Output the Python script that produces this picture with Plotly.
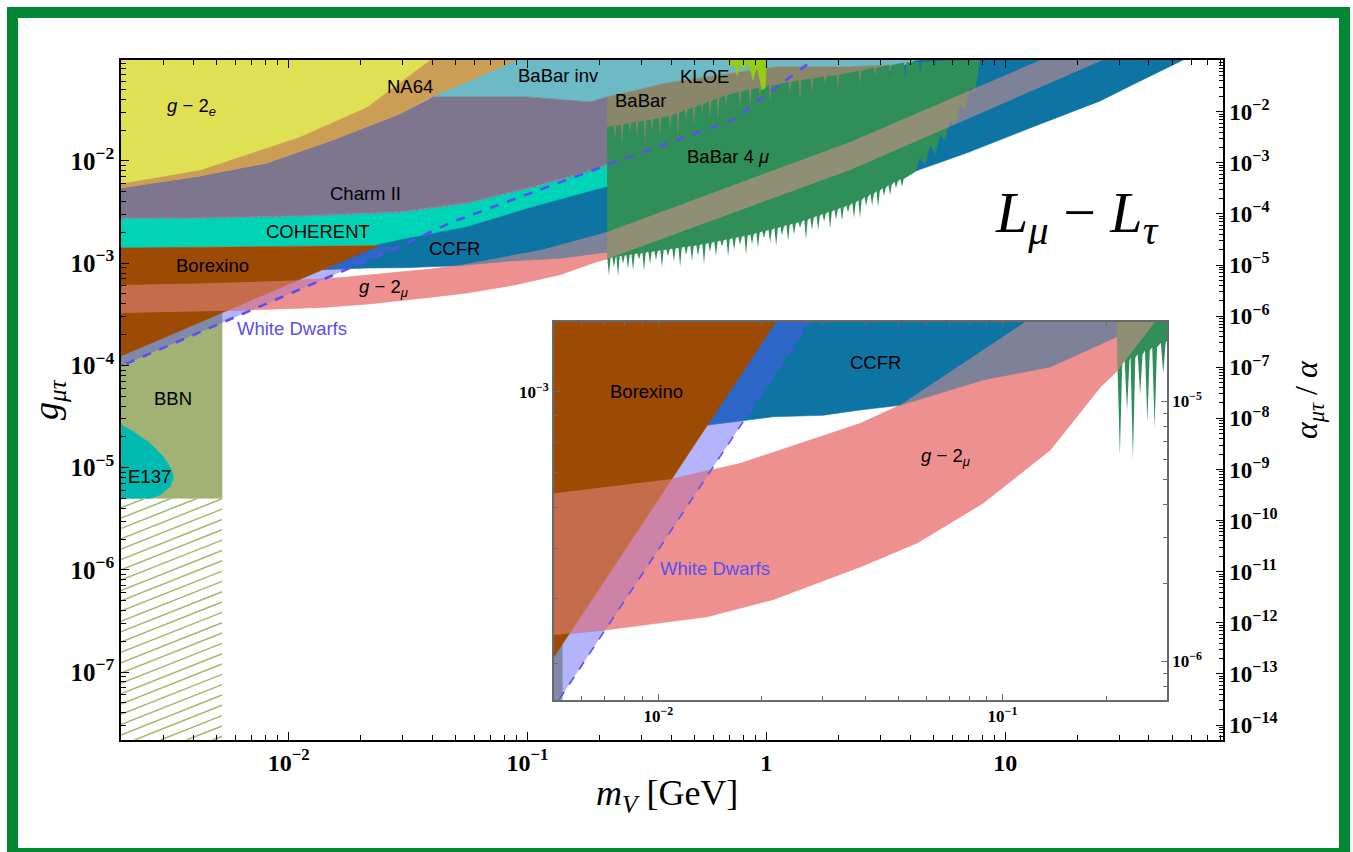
import numpy as np
import plotly.graph_objects as go

# ---------------- data: boundary points ----------------
# all values are log10(m_V / GeV) and log10(g_mu_tau)
g2e_logm = [-2.75, -2.371, -1.953, -1.672, -1.408, -1.40, -2.75]
g2e_logg = [-2.24, -2.088, -1.765, -1.472, -1.012, -0.95, -0.95]

na64_logm = [-2.75, -2.702, -2.371, -2.091, -1.815, -1.534, -1.396, -1.253, -1.044, -1.03, -2.75]
na64_logg = [-2.27, -2.264, -2.147, -2.020, -1.795, -1.540, -1.364, -1.227, -1.012, -0.95, -0.95]

babarinv_logm = [-1.45, -1.396, -1.002, -0.738, -0.667, -0.416, -0.139, 0.045, 0.351, 0.519, 0.552, 0.581, 0.895, 0.979, 0.99, -1.45]
babarinv_logg = [-1.40, -1.374, -1.374, -1.423, -1.374, -1.237, -1.139, -1.080, -1.080, -1.061, -1.139, -1.061, -1.031, -1.0, -0.95, -0.95]

babar_logm = [-0.667, -0.416, -0.139, 0.045, 0.351, 0.519, 0.552, 0.581, 0.895, 0.895, -0.667]
babar_logg = [-1.374, -1.237, -1.139, -1.080, -1.080, -1.061, -1.139, -1.061, -1.031, -1.6, -1.9]

charm_low_logm = [-2.75, -2.371, -1.953, -1.534, -1.253, -0.977, -0.767, -0.667]
charm_low_logg = [-2.558, -2.558, -2.538, -2.499, -2.411, -2.254, -2.117, -2.039]
charm_top_logm = [-0.667, -0.738, -1.002, -1.396, -1.534, -1.815, -2.091, -2.371, -2.702, -2.75]
charm_top_logg = [-1.374, -1.423, -1.374, -1.374, -1.540, -1.795, -2.020, -2.147, -2.264, -2.27]

coherent_low_logm = [-0.667, -0.977, -1.253, -1.534, -1.63, -2.75]
coherent_low_logg = [-2.254, -2.450, -2.646, -2.773, -2.822, -2.853]

borexino_logm = [-2.75, -1.62, -2.75]
borexino_logg = [-2.853, -2.827, -3.957]

ccfr_logm = [-1.857, -1.743, -1.667, -1.521, -1.414, -1.298, -1.056, -0.861, -0.667, -0.522, 0.560, 0.838,
             1.118, 1.398, 1.537, 1.745, 1.80, 0.70, -0.667, -0.977, -1.253, -1.534, -1.63]
ccfr_logg = [-3.064, -3.054, -3.048, -3.045, -3.035, -3.026, -2.977, -2.952, -2.894, -2.868, -2.153, -1.923,
             -1.665, -1.413, -1.251, -1.012, -0.95, -0.95, -2.254, -2.450, -2.646, -2.773, -2.822]

g2mu_up_logm = [-2.75, -2.30, -1.956, -1.763, -1.414, -1.298, -0.94, -0.667, 0.351, 1.146, 1.20]
g2mu_up_logg = [-3.215, -3.195, -3.167, -3.138, -3.061, -3.026, -2.868, -2.695, -1.814, -1.012, -0.96]
g2mu_lo_logm = [-2.75, -2.30, -2.15, -1.859, -1.667, -1.414, -1.248, -1.056, -0.861, -0.716, -0.667, 0.351, 1.41, 1.47]
g2mu_lo_logg = [-3.49, -3.468, -3.458, -3.433, -3.40, -3.337, -3.291, -3.214, -3.112, -2.991, -2.96, -2.088, -1.012, -0.96]

bbn_logm = [-2.75, -2.279, -2.279, -2.75]
bbn_logg = [-5.30, -5.30, -2.9, -2.9]

e137_logm = [-2.75, -2.699, -2.651, -2.581, -2.525, -2.490, -2.483, -2.497, -2.539, -2.581, -2.75]
e137_logg = [-4.583, -4.583, -4.649, -4.762, -4.893, -5.023, -5.105, -5.187, -5.268, -5.30, -5.30]

wd_line_logm = [-2.75, -2.286, -1.564, -1.325, -0.667, -0.139, 0.196, 0.22]
wd_line_logg = [-4.054, -3.590, -2.868, -2.607, -2.039, -1.599, -1.012, -0.97]
wd_band_logm = [-2.75, -1.53, -1.627, -2.75]
wd_band_logg = [-4.054, -2.834, -2.834, -3.957]

# BaBar 4mu: jagged lower edge (spike position, edge level, spike tip)
b4mu_spike_logm = [-0.659, -0.638, -0.621, -0.600, -0.579, -0.558, -0.533, -0.512, -0.487, -0.462,
                   -0.437, -0.412, -0.387, -0.361, -0.336, -0.311, -0.286, -0.261, -0.236, -0.211,
                   -0.186, -0.160, -0.135, -0.110, -0.085, -0.060, -0.035, -0.010, 0.016, 0.041,
                   0.066, 0.091, 0.116, 0.141, 0.166, 0.191, 0.217, 0.242, 0.267, 0.292,
                   0.317, 0.342, 0.367, 0.392, 0.418, 0.443, 0.468, 0.493, 0.518, 0.543, 0.568]
b4mu_spike_base = [-2.946, -2.939, -2.934, -2.928, -2.921, -2.914, -2.906, -2.898, -2.890, -2.883,
                   -2.874, -2.866, -2.857, -2.849, -2.841, -2.833, -2.825, -2.814, -2.802, -2.791,
                   -2.779, -2.767, -2.755, -2.744, -2.732, -2.719, -2.704, -2.689, -2.673, -2.658,
                   -2.643, -2.627, -2.613, -2.597, -2.577, -2.558, -2.537, -2.517, -2.497, -2.477,
                   -2.457, -2.437, -2.411, -2.382, -2.352, -2.323, -2.294, -2.264, -2.235, -2.205, -2.176]
b4mu_spike_tip = [-3.122, -3.037, -3.130, -3.006, -3.058, -3.070, -2.965, -3.074, -3.008, -2.971,
                  -3.040, -2.934, -2.984, -3.035, -2.920, -2.979, -2.932, -3.010, -2.890, -2.928,
                  -2.838, -2.933, -2.873, -2.822, -2.918, -2.817, -2.850, -2.757, -2.800, -2.834,
                  -2.731, -2.784, -2.720, -2.656, -2.773, -2.675, -2.674, -2.595, -2.663, -2.575,
                  -2.584, -2.506, -2.558, -2.558, -2.440, -2.440, -2.450, -2.342, -2.333, -2.264, -2.254]
# right edge (bottom -> top)
b4mu_right_logm = [0.623, 0.644, 0.665, 0.686, 0.707, 0.728, 0.749, 0.769, 0.790, 0.811, 0.832, 0.853, 0.874, 0.895, 0.75]
b4mu_right_logg = [-2.108, -1.971, -2.039, -1.843, -1.941, -1.746, -1.795, -1.599, -1.648, -1.452, -1.501, -1.286, -1.325, -1.012, -1.020]
# jagged upper edge (notch position, edge level, notch tip), right -> left
b4mu_notch_logm = [0.706, 0.644, 0.581, 0.518, 0.455, 0.392, 0.300, 0.246, 0.191, 0.141, 0.099, 0.016,
                   -0.026, -0.068, -0.110, -0.169, -0.202, -0.236, -0.269, -0.303, -0.336, -0.370,
                   -0.403, -0.445, -0.479, -0.508, -0.541, -0.571, -0.604, -0.634]
b4mu_notch_base = [-1.026, -1.032, -1.038, -1.061, -1.090, -1.119, -1.157, -1.175, -1.195, -1.212, -1.227, -1.262,
                   -1.282, -1.301, -1.321, -1.359, -1.388, -1.417, -1.445, -1.474, -1.502, -1.530,
                   -1.559, -1.581, -1.594, -1.606, -1.618, -1.630, -1.643, -1.655]
b4mu_notch_tip = [-1.085, -1.130, -1.214, -1.178, -1.168, -1.247, -1.323, -1.263, -1.332, -1.428, -1.344, -1.438,
                  -1.380, -1.497, -1.478, -1.477, -1.604, -1.583, -1.533, -1.660, -1.610, -1.765,
                  -1.705, -1.777, -1.711, -1.850, -1.795, -1.728, -1.858, -1.792]
b4mu_corner_logm = [-0.667, -0.667]          # left edge: top, bottom
b4mu_corner_logg = [-1.667, -2.949]

kloe_logm = [-0.164, -0.152, -0.139, -0.122, -0.110, -0.089, -0.077, -0.056, -0.039, -0.018, -0.005, 0.003, 0.003, -0.164]
kloe_logg = [-1.012, -1.090, -1.031, -1.159, -1.051, -1.110, -1.031, -1.207, -1.070, -1.305, -1.286, -1.012, -0.95, -0.95]

# region labels: (text, log10 m, log10 g)
main_labels = [
    ("<i>g</i> − 2<sub><i>e</i></sub>", -2.405, -1.472),
    ("NA64", -1.492, -1.276),
    ("BaBar inv", -0.872, -1.168),
    ("KLOE", -0.261, -1.178),
    ("BaBar", -0.529, -1.413),
    ("Charm II", -1.680, -2.323),
    ("BaBar 4 <i>μ</i>", -0.160, -1.961),
    ("COHERENT", -1.877, -2.695),
    ("CCFR", -1.304, -2.861),
    ("Borexino", -2.317, -3.027),
    ("<i>g</i> − 2<sub><i>μ</i></sub>", -1.605, -3.243),
    ("BBN", -2.484, -4.329),
    ("E137", -2.581, -5.092),
]
inset_labels = [
    ("Borexino", -2.033, -2.999),
    ("CCFR", -1.370, -2.943),
    ("<i>g</i> − 2<sub><i>μ</i></sub>", -1.167, -3.126),
]
wd_label_main = (-1.986, -3.644)
wd_label_inset = (-1.835, -3.339)

# axis ranges (log10) and ticks
main_xrange = [-2.702, 1.912]
main_yrange = [-7.665, -1.013]
alpha_offset = 1.037           # log10(1/(4 pi alpha_em)): alpha_mt/alpha = g^2/(4 pi alpha)
inset_xrange = [-2.303, -0.522]
inset_yrange = [-3.593, -2.865]
main_xticks = [-2, -1, 0, 1]
main_xticktext = ["10<sup>−2</sup>", "10<sup>−1</sup>", "1", "10"]
main_yticks = [-2, -3, -4, -5, -6, -7]
alpha_ticks = list(range(-2, -15, -1))
inset_xticks = [-2, -1]
inset_yticks = [-3]
inset_alpha_ticks = [-5, -6]

# ---------------- figure ----------------
W, H = 1353, 852
ML, MR, MT, MB = 121, 130, 60, 112
fig = go.Figure()
AX = [("x", "y"), ("x2", "y3")]


def add_poly(lm, lg, color, line=True, axes=AX):
    for xa, ya in axes:
        fig.add_trace(go.Scatter(
            x=10 ** np.array(lm, dtype=float), y=10 ** np.array(lg, dtype=float),
            fill="toself", fillcolor=color, mode="lines",
            line=dict(width=0.6 if line else 0, color=color),
            hoverinfo="skip", showlegend=False, xaxis=xa, yaxis=ya))


def band(lm_up, lg_up, lm_lo, lg_lo):
    return list(lm_up) + list(lm_lo)[::-1], list(lg_up) + list(lg_lo)[::-1]


def jag(pos, base, tip, w):
    xs, ys = [], []
    for p, b, t in zip(pos, base, tip):
        xs += [p - w, p, p + w]
        ys += [b, t, b]
    return xs, ys


# BaBar 4 mu outline
sx, sy = jag(b4mu_spike_logm, b4mu_spike_base, b4mu_spike_tip, 0.007)
nx, ny = jag(b4mu_notch_logm[::-1], b4mu_notch_base[::-1], b4mu_notch_tip[::-1], 0.005)
b4mu_x = [b4mu_corner_logm[1]] + sx + b4mu_right_logm + nx[::-1] + [b4mu_corner_logm[0]]
b4mu_y = [b4mu_corner_logg[1]] + sy + b4mu_right_logg + ny[::-1] + [b4mu_corner_logg[0]]

add_poly(babarinv_logm, babarinv_logg, "rgb(108,186,198)")
add_poly(babar_logm, babar_logg, "rgb(138,134,106)")
cm, cg = band(charm_top_logm[::-1], charm_top_logg[::-1], charm_low_logm, charm_low_logg)
add_poly(cm, cg, "rgb(126,118,142)")
add_poly(na64_logm, na64_logg, "rgb(204,157,84)")
add_poly(g2e_logm, g2e_logg, "rgb(224,224,84)")
hm, hg = band(charm_low_logm, charm_low_logg, coherent_low_logm[::-1], coherent_low_logg[::-1])
add_poly(hm, hg, "rgb(0,212,182)")
pm, pg = band(g2mu_up_logm, g2mu_up_logg, g2mu_lo_logm, g2mu_lo_logg)
add_poly(pm, pg, "rgb(238,144,144)")
add_poly(ccfr_logm, ccfr_logg, "rgb(14,116,163)")
add_poly(bbn_logm, bbn_logg, "rgb(162,178,116)")
add_poly(e137_logm, e137_logg, "rgb(0,186,178)")
add_poly(wd_band_logm, wd_band_logg, "rgba(85,85,244,0.44)", line=False)
add_poly(borexino_logm, borexino_logg, "rgb(156,74,4)")
add_poly(b4mu_x, b4mu_y, "rgb(48,143,88)", line=False)
add_poly(kloe_logm, kloe_logg, "rgb(150,205,20)")
add_poly(pm, pg, "rgba(238,144,144,0.5)", line=False)

# boundary lines
for (xa, ya), w in zip(AX, [2.6, 1.6]):
    fig.add_trace(go.Scatter(x=10 ** np.array(charm_low_logm), y=10 ** np.array(charm_low_logg),
                             mode="lines", line=dict(color="rgb(190,100,150)", width=2, dash="dot"),
                             hoverinfo="skip", showlegend=False, xaxis=xa, yaxis=ya))
    fig.add_trace(go.Scatter(x=10 ** np.array(wd_line_logm), y=10 ** np.array(wd_line_logg),
                             mode="lines", line=dict(color="rgb(90,80,240)", width=w, dash="dash"),
                             hoverinfo="skip", showlegend=False, xaxis=xa, yaxis=ya))

# hatching below BBN (decoration of the BBN-unconstrained strip)
hx, hy = [], []
x0, x1 = main_xrange[0], bbn_logm[1]
ylo, yhi = main_yrange[0], bbn_logg[0]
slope, step, c0 = 0.925, 0.101, -7.616
for k in range(-6, 30):
    c = c0 + k * step
    a = max(x0, x0 + (ylo - c) / slope)
    b = min(x1, x0 + (yhi - c) / slope)
    if a < b:
        hx += [10 ** a, 10 ** b, None]
        hy += [10 ** (c + slope * (a - x0)), 10 ** (c + slope * (b - x0)), None]
fig.add_trace(go.Scatter(x=hx, y=hy, mode="lines", line=dict(color="rgb(165,185,110)", width=1.5),
                         hoverinfo="skip", showlegend=False, xaxis="x", yaxis="y"))

# dummy traces for secondary (alpha) axes
fig.add_trace(go.Scatter(x=[None], y=[None], xaxis="x", yaxis="y2", showlegend=False))
fig.add_trace(go.Scatter(x=[None], y=[None], xaxis="x2", yaxis="y4", showlegend=False))

# ---------------- axes ----------------
SERIF = "Liberation Serif"
SANS = "Liberation Sans"


def pw(e):
    return "10<sup>−%d</sup>" % (-e)


def minor_vals(lo, hi):
    out = []
    for n in range(int(np.floor(lo)) - 1, int(np.ceil(hi)) + 1):
        for k in range(2, 10):
            v = k * 10.0 ** n
            if lo <= np.log10(v) <= hi:
                out.append(v)
    return out


def ax_common(color, width, tfsize, rng, ticklen=7, minorlen=4):
    return dict(type="log", showline=True, linecolor=color, linewidth=width,
                ticks="inside", ticklen=ticklen, tickwidth=1.2, tickcolor=color,
                showgrid=False, zeroline=False, tickmode="array", range=rng,
                tickfont=dict(family=SERIF, size=tfsize, color="black", weight="bold"),
                minor=dict(ticks="inside", ticklen=minorlen, tickwidth=1, tickcolor=color, showgrid=False,
                           tickmode="array", tickvals=minor_vals(rng[0], rng[1])),
                autorange=False)


alpha_main_range = [2 * main_yrange[0] + alpha_offset, 2 * main_yrange[1] + alpha_offset]
alpha_inset_range = [2 * inset_yrange[0] + alpha_offset, 2 * inset_yrange[1] + alpha_offset]

mx = dict(ax_common("black", 1.5, 24, main_xrange, 8, 5), domain=[0, 1], anchor="y",
          tickvals=[10 ** v for v in main_xticks], ticktext=main_xticktext, mirror="ticks")
my = dict(ax_common("black", 1.5, 25, main_yrange, 8, 5), domain=[0, 1], anchor="x",
          tickvals=[10 ** v for v in main_yticks], ticktext=[pw(v) for v in main_yticks])
my2 = dict(ax_common("black", 1.5, 23, alpha_main_range, 7, 4), overlaying="y", side="right", anchor="x",
           tickvals=[10 ** v for v in alpha_ticks], ticktext=[pw(v) for v in alpha_ticks])

ix0 = (554 - ML) / (W - ML - MR)
ix1 = (1167 - ML) / (W - ML - MR)
iy0 = (H - MB - 700) / (H - MT - MB)
iy1 = (H - MB - 321.7) / (H - MT - MB)
GRAY = "rgb(105,105,105)"
ixa = dict(ax_common(GRAY, 1.6, 17, inset_xrange, 6, 4), domain=[ix0, ix1], anchor="y3",
           tickvals=[10 ** v for v in inset_xticks], ticktext=[pw(v) for v in inset_xticks], mirror="ticks")
iya = dict(ax_common(GRAY, 1.6, 17, inset_yrange, 6, 4), domain=[iy0, iy1], anchor="x2",
           tickvals=[10 ** v for v in inset_yticks], ticktext=[pw(v) for v in inset_yticks])
iya2 = dict(ax_common(GRAY, 1.6, 17, alpha_inset_range, 6, 4), overlaying="y3", side="right", anchor="x2",
            tickvals=[10 ** v for v in inset_alpha_ticks], ticktext=[pw(v) for v in inset_alpha_ticks])

fig.update_layout(width=W, height=H, autosize=False,
                  margin=dict(l=ML, r=MR, t=MT, b=MB),
                  paper_bgcolor="white", plot_bgcolor="white", showlegend=False,
                  xaxis=mx, yaxis=my, yaxis2=my2, xaxis2=ixa, yaxis3=iya, yaxis4=iya2)

# ---------------- annotations ----------------
LBL = 18.5
ann = []
for t, lx, ly in main_labels:
    ann.append(dict(text=t, x=lx, y=ly, xref="x", yref="y", showarrow=False,
                    font=dict(family=SANS, size=LBL, color="black")))
for t, lx, ly in inset_labels:
    ann.append(dict(text=t, x=lx, y=ly, xref="x2", yref="y3", showarrow=False,
                    font=dict(family=SANS, size=LBL, color="black")))
ann.append(dict(text="White Dwarfs", x=wd_label_main[0], y=wd_label_main[1], xref="x", yref="y",
                showarrow=False, font=dict(family=SANS, size=LBL, color="rgb(90,80,240)")))
ann.append(dict(text="White Dwarfs", x=wd_label_inset[0], y=wd_label_inset[1], xref="x2", yref="y3",
                showarrow=False, font=dict(family=SANS, size=LBL, color="rgb(90,80,240)")))
ann.append(dict(text="<i>L</i><sub><i>μ</i></sub> − <i>L</i><sub><i>τ</i></sub>", x=1.300, y=-2.54,
                xref="x", yref="y", showarrow=False, font=dict(family=SERIF, size=58, color="black")))


def px2paper(px, py):
    return (px - ML) / (W - ML - MR), (H - MB - py) / (H - MT - MB)


ax_, ay_ = px2paper(667, 795)
ann.append(dict(text="<i>m</i><sub><i>V</i></sub> [GeV]", x=ax_, y=ay_, xref="paper", yref="paper",
                xanchor="center", yanchor="middle",
                showarrow=False, font=dict(family=SERIF, size=36, color="black")))
ax_, ay_ = px2paper(48, 400)
ann.append(dict(text="<i>g</i><sub><i>μτ</i></sub>", x=ax_, y=ay_, xref="paper", yref="paper",
                xanchor="center", yanchor="middle",
                showarrow=False, textangle=-90, font=dict(family=SERIF, size=36, color="black")))
ax_, ay_ = px2paper(1308, 400)
ann.append(dict(text="<i>α</i><sub><i>μτ</i></sub> / <i>α</i>", x=ax_, y=ay_, xref="paper", yref="paper",
                xanchor="center", yanchor="middle",
                showarrow=False, textangle=-90, font=dict(family=SERIF, size=32, color="black")))
fig.update_layout(annotations=ann)

# green frame
fx0, fy0 = px2paper(12.5, 853.5)
fx1, fy1 = px2paper(1344.5, 12.5)
fig.add_shape(type="rect", xref="paper", yref="paper", x0=fx0, y0=fy0, x1=fx1, y1=fy1,
              line=dict(color="rgb(0,136,50)", width=11), fillcolor="rgba(0,0,0,0)", layer="above")

fig.write_html("out.html", config={"displayModeBar": False},
               post_script="document.body.style.margin='0';document.body.style.padding='0';")
